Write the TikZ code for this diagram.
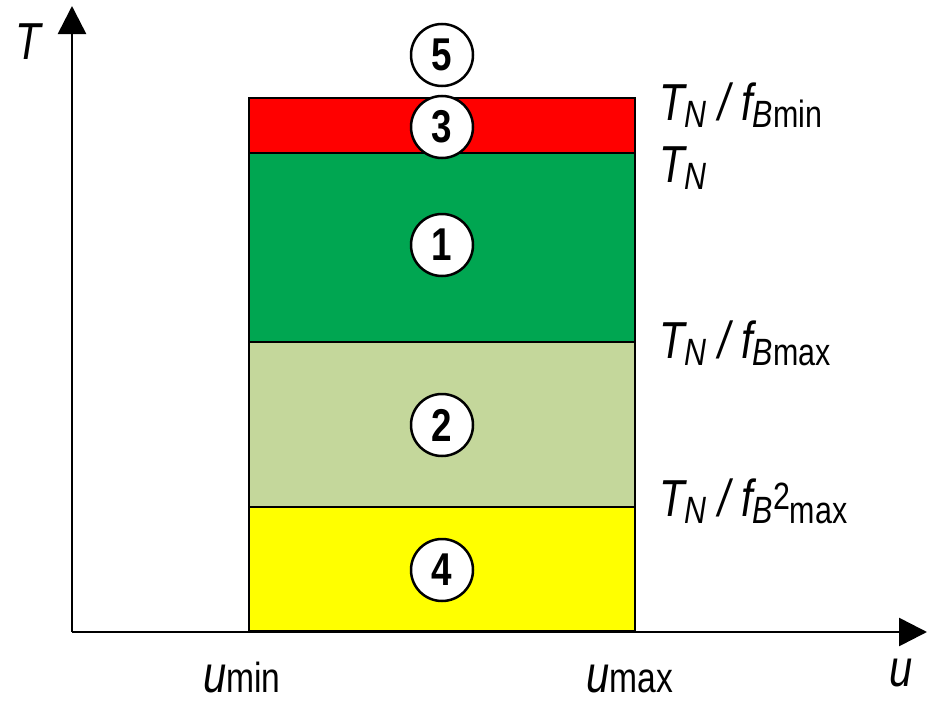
\documentclass[tikz,border=0pt]{standalone}
\usepackage{fontspec}
\setmainfont{Liberation Sans}[FakeStretch=0.8]
\usetikzlibrary{arrows.meta}
\definecolor{cred}{RGB}{255,0,0}
\definecolor{cgreen}{RGB}{0,166,81}
\definecolor{clgreen}{RGB}{196,215,155}
\definecolor{cyellow}{RGB}{255,255,0}
\newcommand\sbs[1]{\raisebox{-0.14em}{\fontsize{38}{38}\selectfont #1}}
\newcommand\sps[1]{\raisebox{0.12em}{\fontsize{38}{38}\selectfont #1}}
\newcommand\usb[1]{{\fontsize{42}{42}\selectfont #1}}
\begin{document}
\begin{tikzpicture}[x=1pt,y=-1pt,
  lbl/.style={font=\fontsize{52}{52}\selectfont, inner sep=0pt, anchor=base west},
  num/.style={circle, draw, line width=2.5pt, fill=white, minimum size=62pt, inner sep=0pt, font=\fontsize{46}{46}\selectfont\bfseries},
  band/.style={draw, line width=2.2pt},
  axis/.style={line width=2.6pt, -{Triangle[length=28pt,width=28pt]}}]
\useasboundingbox (0,0) rectangle (927,704);
% bands
\fill[cred] (249,98) rectangle (635,153);
\fill[cgreen] (249,153) rectangle (635,342);
\fill[clgreen] (249,342) rectangle (635,507);
\fill[cyellow] (249,507) rectangle (635,631);
\draw[band] (249,98) rectangle (635,631);
\draw[band] (249,153) -- (635,153);
\draw[band] (249,342) -- (635,342);
\draw[band] (249,507) -- (635,507);
% axes
\coordinate (O) at (72,632);
\coordinate (Ytop) at (72,6);
\coordinate (Xend) at (927,632);
\draw[axis] (O) -- (Ytop);
\draw[axis] (O) -- (Xend);
% circles
\node[num] (c5) at (442,55) {5};
\node[num] (c3) at (442,127) {3};
\node[num] (c1) at (442,245) {1};
\node[num] (c2) at (442,425) {2};
\node[num] (c4) at (442,570) {4};
% labels
\node[lbl] (lT) at (15,59) {\itshape T};
\node[lbl] (lu) at (889,686) {\itshape u};
\node[lbl] (lumin) at (203,692) {\itshape u\usb{\upshape min}};
\node[lbl] (lumax) at (586,692) {\itshape u\usb{\upshape max}};
\node[lbl] (l1) at (659,120) {\itshape T\sbs{N} / f\sbs{B\upshape min}};
\node[lbl] (l2) at (659,182) {\itshape T\sbs{N}};
\node[lbl] (l3) at (659,358) {\itshape T\sbs{N} / f\sbs{B\upshape max}};
\node[lbl] (l4) at (659,516) {\itshape T\sbs{N} / f\sbs{B}\sps{\upshape 2}\sbs{\upshape max}};
\end{tikzpicture}
\end{document}
